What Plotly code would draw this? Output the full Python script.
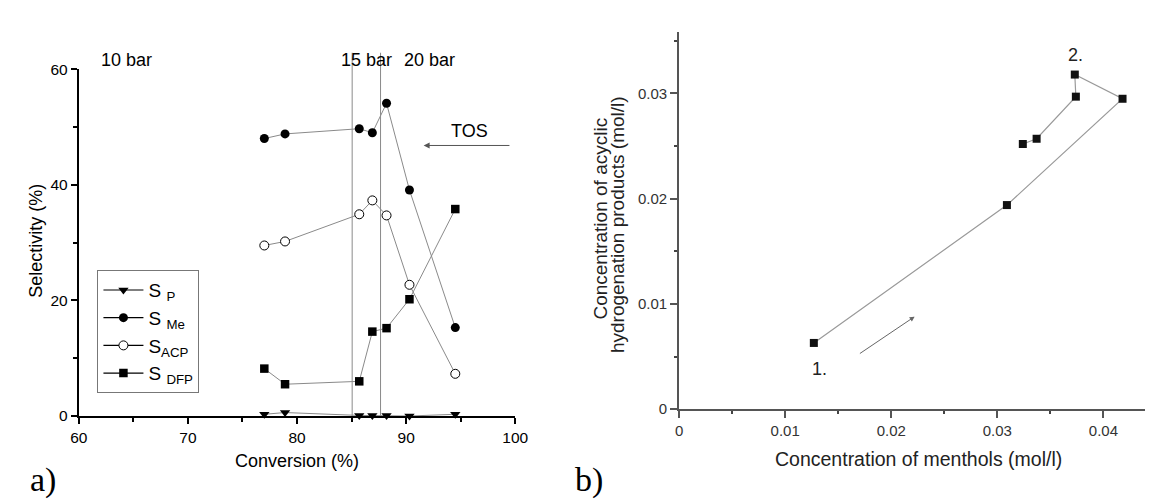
import plotly.graph_objects as go

# ---- panel a) data ----
conversion = [77.0, 78.9, 85.7, 86.9, 88.2, 90.3, 94.5]
s_p = [0.3, 0.6, 0.1, 0.1, 0.1, 0.0, 0.3]
s_me = [48.0, 48.8, 49.7, 49.0, 54.1, 39.1, 15.3]
s_acp = [29.5, 30.2, 34.9, 37.3, 34.7, 22.7, 7.3]
s_dfp = [8.2, 5.5, 6.0, 14.6, 15.2, 20.2, 35.8]
pressure_lines = [85.05, 87.65]
pressure_labels = ["10 bar", "15 bar", "20 bar"]
pressure_label_x = [64.4, 86.4, 92.1]

# ---- panel b) data ----
menthols = [0.0127, 0.0309, 0.0418, 0.0373, 0.0374, 0.0337, 0.0324]
acyclic = [0.0063, 0.0194, 0.0295, 0.0318, 0.0297, 0.0257, 0.0252]

W, H = 1153, 502
def px(x):
    return x / W
def py(y):
    return (H - y) / H

SANS = "Liberation Sans, Arial"
SERIF = "Liberation Serif, Times New Roman"

fig = go.Figure()

series = [
    ("S <sub>P</sub>", s_p, dict(symbol="triangle-down", color="black", size=9)),
    ("S <sub>Me</sub>", s_me, dict(symbol="circle", color="black", size=9)),
    ("S<sub>ACP</sub>", s_acp, dict(symbol="circle", color="white", size=9, line=dict(color="black", width=1))),
    ("S <sub>DFP</sub>", s_dfp, dict(symbol="square", color="black", size=8.5)),
]
for name, ys, mk in series:
    fig.add_trace(go.Scatter(x=conversion, y=ys, mode="lines+markers",
                             line=dict(color="#8a8a8a", width=1), marker=mk,
                             showlegend=False, xaxis="x", yaxis="y", cliponaxis=False))
for name, ys, mk in series:
    fig.add_trace(go.Scatter(x=[None], y=[None], mode="lines+markers", name=name,
                             line=dict(color="black", width=1.2), marker=mk,
                             showlegend=True, xaxis="x", yaxis="y"))

fig.add_trace(go.Scatter(x=menthols, y=acyclic, mode="lines+markers",
                         line=dict(color="#9a9a9a", width=1.2),
                         marker=dict(symbol="square", color="#111", size=8),
                         showlegend=False, xaxis="x2", yaxis="y2", cliponaxis=False))

shapes = []
for xv in pressure_lines:
    shapes.append(dict(type="line", xref="x", yref="paper", x0=xv, x1=xv,
                       y0=py(413), y1=py(37), line=dict(color="#8a8a8a", width=1)))

def ptext(text, x, y, size, family=SANS, color="black", angle=0):
    return dict(text=text, x=px(x), y=py(y), xref="paper", yref="paper",
                xanchor="center", yanchor="middle", textangle=angle, showarrow=False,
                font=dict(size=size, color=color, family=family))

annotations = []
for t, xv in zip(pressure_labels, pressure_label_x):
    annotations.append(dict(text=t, x=xv, y=py(45), xref="x", yref="paper",
                            xanchor="center", yanchor="middle", showarrow=False,
                            font=dict(size=18, color="black", family=SANS)))
annotations.append(dict(text="TOS", x=95.8, y=49.3, xref="x", yref="y", showarrow=False,
                        xanchor="center", yanchor="middle",
                        font=dict(size=18, color="black", family=SANS)))
annotations.append(dict(text="", x=91.6, y=46.8, ax=99.6, ay=46.8, xref="x", yref="y",
                        axref="x", ayref="y", showarrow=True, arrowhead=2, arrowsize=1.2,
                        arrowwidth=1, arrowcolor="#555"))
annotations.append(ptext("Selectivity (%)", 20, 232, 18, angle=-90))
annotations.append(ptext("Conversion (%)", 285, 460, 18))
annotations.append(ptext("a)", 27, 479, 34, family=SERIF))
annotations.append(ptext("b)", 583, 479, 34, family=SERIF))
# panel b texts
annotations.append(dict(text="1.", x=0.0132, y=0.0038, xref="x2", yref="y2", showarrow=False,
                        xanchor="center", yanchor="middle",
                        font=dict(size=18, color="#222", family=SANS)))
annotations.append(dict(text="2.", x=0.0374, y=0.0337, xref="x2", yref="y2", showarrow=False,
                        xanchor="center", yanchor="middle",
                        font=dict(size=18, color="#222", family=SANS)))
annotations.append(dict(text="", x=0.0222, y=0.0088, ax=0.0169, ay=0.0052, xref="x2", yref="y2",
                        axref="x2", ayref="y2", showarrow=True, arrowhead=2, arrowsize=1,
                        arrowwidth=1, arrowcolor="#666"))
annotations.append(ptext("Concentration of acyclic", 595, 209, 19, color="#222", angle=-90))
annotations.append(ptext("hydrogenation products (mol/l)", 612, 215, 19, color="#222", angle=-90))
annotations.append(ptext("Concentration of menthols (mol/l)", 919, 458, 19.5, color="#222"))

axis_font = dict(size=15.5, color="black", family=SANS)
axis_font2 = dict(size=15, color="#333", family=SANS)

fig.update_layout(
    width=W, height=H,
    margin=dict(l=0, r=0, t=0, b=0),
    paper_bgcolor="white", plot_bgcolor="white",
    showlegend=True,
    legend=dict(x=px(82), y=py(262), xanchor="left", yanchor="top",
                bordercolor="#777", borderwidth=1, bgcolor="white",
                font=dict(size=19, color="black", family=SANS),
                itemwidth=40, tracegroupgap=0),
    xaxis=dict(domain=[px(63), px(508)], range=[60, 100], tickvals=[60, 70, 80, 90, 100],
               showgrid=False, zeroline=False, showline=True, linecolor="black", linewidth=2,
               ticks="outside", ticklen=6, tickwidth=2, tickcolor="black", tickfont=axis_font,
               minor=dict(tickvals=[65, 75, 85, 95], ticks="outside", ticklen=4, tickwidth=2,
                          tickcolor="black"),
               anchor="y", fixedrange=True),
    yaxis=dict(domain=[py(413), py(54)], range=[0, 60], tickvals=[0, 20, 40, 60],
               showgrid=False, zeroline=False, showline=True, linecolor="black", linewidth=2,
               ticks="outside", ticklen=6, tickwidth=2, tickcolor="black", tickfont=axis_font,
               minor=dict(tickvals=[10, 30, 50], ticks="outside", ticklen=4, tickwidth=2,
                          tickcolor="black"),
               anchor="x", fixedrange=True),
    xaxis2=dict(domain=[px(675), 1.0], range=[0, 0.0442],
                tickvals=[0, 0.01, 0.02, 0.03, 0.04], ticktext=["0", "0.01", "0.02", "0.03", "0.04"],
                showgrid=False, zeroline=False, showline=True, linecolor="#555", linewidth=2,
                ticks="outside", ticklen=7, tickwidth=1.5, tickcolor="#555", tickfont=axis_font2,
                minor=dict(tickvals=[0.005, 0.015, 0.025, 0.035], ticks="outside", ticklen=3,
                           tickwidth=2, tickcolor="#444"),
                anchor="y2", fixedrange=True),
    yaxis2=dict(domain=[py(406), py(16)], range=[0, 0.0358],
                tickvals=[0, 0.01, 0.02, 0.03], ticktext=["0", "0.01", "0.02", "0.03"],
                showgrid=False, zeroline=False, showline=True, linecolor="#555", linewidth=2,
                ticks="outside", ticklen=7, tickwidth=1.5, tickcolor="#555", tickfont=axis_font2,
                minor=dict(tickvals=[0.005, 0.015, 0.025, 0.035], ticks="outside", ticklen=3,
                           tickwidth=2, tickcolor="#444"),
                anchor="x2", fixedrange=True),
    shapes=shapes,
    annotations=annotations,
)

fig.write_html("out.html")
